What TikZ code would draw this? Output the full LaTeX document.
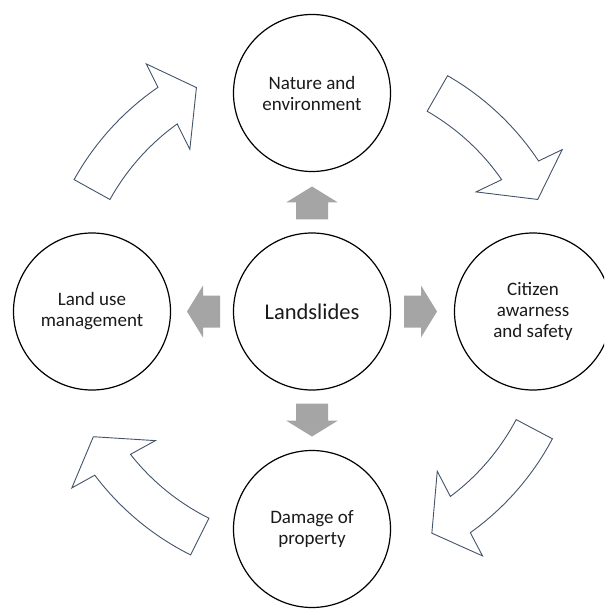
\documentclass[tikz,border=0pt]{standalone}
\usepackage{fontspec}
\setmainfont{Carlito}
\definecolor{outl}{HTML}{44546A}
\definecolor{blk}{HTML}{A5A5A5}
\definecolor{txt}{HTML}{1A1A1A}
\tikzset{
  circ/.style={circle, draw=black, line width=1.2pt, fill=white, minimum size=157pt, inner sep=0pt, align=center, text=txt, font=\fontsize{19}{21}\selectfont},
  bigtxt/.style={font=\fontsize{22.5}{25}\selectfont},
  curvarrow/.style={draw=outl, line width=0.9pt, fill=white, line join=miter},
  blockarrow/.style={fill=blk, draw=none}
}
\newcommand{\curvearrow}[1]{%
  \path[curvarrow] (#1:231pt) -- (#1:272pt)
    arc[start angle=#1, end angle=#1-26.5, radius=272pt]
    -- ({#1-27.2}:298pt) -- ({#1-33.7}:252pt) -- ({#1-24}:203pt)
    -- ({#1-25.3}:231pt)
    arc[start angle=#1-25.3, end angle=#1, radius=231pt] -- cycle;}
\newcommand{\blockarr}[1]{%
  \path[blockarrow, rotate=#1] (92pt,-16pt) -- (109pt,-16pt) -- (109pt,-26pt) -- (125pt,0pt)
    -- (109pt,26pt) -- (109pt,16pt) -- (92pt,16pt) -- cycle;}
\begin{document}
\begin{tikzpicture}[x=1pt,y=1pt]
\clip (0,0) rectangle (604,-609);
\fill[white] (0,0) rectangle (604,-609);
\node[circ, bigtxt] (land) at (312,-311.5) {Landslides};
\node[circ] (nat) at (312,-93) {Nature and\\environment};
\node[circ] (lum) at (92,-311.5) {Land use\\management};
\node[circ] (cit) at (533,-311.5) {Citizen\\awarness\\and safety};
\node[circ] (dam) at (312,-529) {Damage of\\property};
\begin{scope}[shift={(land.center)}]
  \curvearrow{151}
  \curvearrow{60.1}
  \curvearrow{-27.9}
  \curvearrow{-116.5}
  \blockarr{90}
  \blockarr{0}
  \blockarr{180}
  \blockarr{-90}
\end{scope}
\end{tikzpicture}
\end{document}
